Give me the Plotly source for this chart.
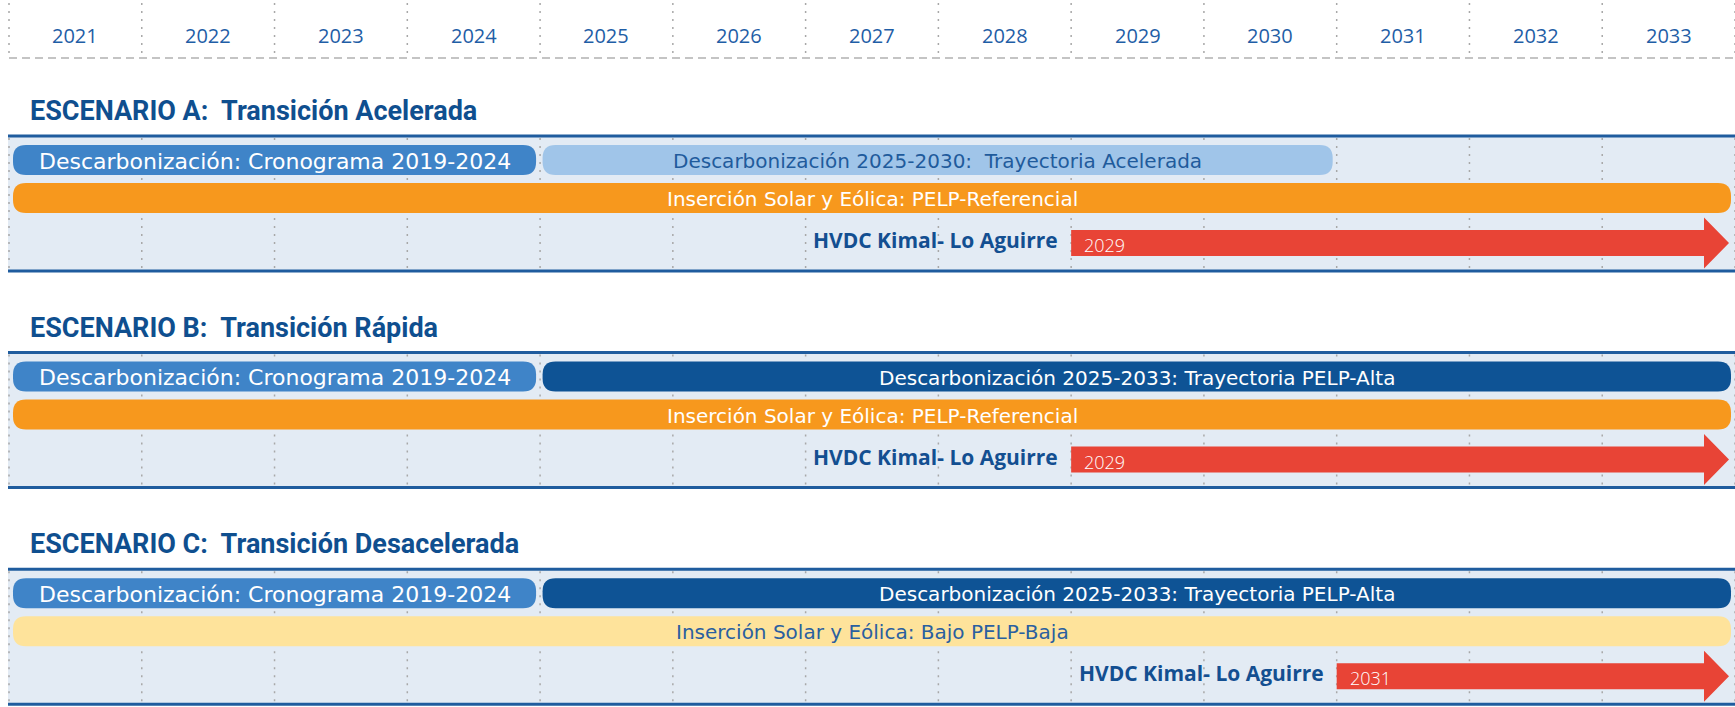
import plotly.graph_objects as go

# ---------------- data ----------------
years = list(range(2021, 2034))
year_labels = [str(y) for y in years]
axis_end = 2034

scenario_titles = ["ESCENARIO A:  Transición Acelerada",
                   "ESCENARIO B:  Transición Rápida",
                   "ESCENARIO C:  Transición Desacelerada"]

crono_label = "Descarbonización: Cronograma 2019-2024"
crono_start = [2021, 2021, 2021]
crono_end = [2025, 2025, 2025]

decarb_labels = ["Descarbonización 2025-2030:  Trayectoria Acelerada",
                 "Descarbonización 2025-2033: Trayectoria PELP-Alta",
                 "Descarbonización 2025-2033: Trayectoria PELP-Alta"]
decarb_start = [2025, 2025, 2025]
decarb_end = [2031, 2034, 2034]

solar_labels = ["Inserción Solar y Eólica: PELP-Referencial",
                "Inserción Solar y Eólica: PELP-Referencial",
                "Inserción Solar y Eólica: Bajo PELP-Baja"]
solar_start = [2021, 2021, 2021]
solar_end = [2034, 2034, 2034]

hvdc_label = "HVDC Kimal- Lo Aguirre"
hvdc_year = [2029, 2029, 2031]

# ---------------- style ----------------
W, H = 1735, 707
left_px = 9
ppy = (W - left_px) / (axis_end - years[0])  # pixels per year
x_lo = years[0] - left_px / ppy

def px(n):
    return n / ppy

decarb_colors = ["#a0c5e9", "#0e5395", "#0e5395"]
decarb_text = ["#1f5b9c", "white", "white"]
solar_colors = ["#f7981d", "#f7981d", "#fee39b"]
solar_text = ["white", "white", "#2a5fa0"]
crono_color = "#3f84c8"
red = "#e84436"
title_color = "#0f4f8f"
panel_bg = "#e3ebf4"
panel_line = "#1f5c9e"
grid_color = "#a8a8a8"
grid_dash = "2px,6px"

panel_tops = [136 + 216.6 * i for i in range(3)]
panel_h = 135
row1_off, row2_off, row3_off = 24, 62, 107
bar_h = 30
radius = 13

shapes = []
annotations = []

BAR_FONT = "DejaVu Sans"
YEAR_FONT = "Open Sans"
TITLE_FONT = "Roboto"
LABEL_FONT = "Open Sans"

def rounded(x0, x1, yc, h, r, color):
    y0, y1 = yc - h / 2, yc + h / 2
    rx = px(r)
    p = (f"M {x0+rx},{y0} L {x1-rx},{y0} Q {x1},{y0} {x1},{y0+r} "
         f"L {x1},{y1-r} Q {x1},{y1} {x1-rx},{y1} L {x0+rx},{y1} "
         f"Q {x0},{y1} {x0},{y1-r} L {x0},{y0+r} Q {x0},{y0} {x0+rx},{y0} Z")
    shapes.append(dict(type="path", path=p, xref="x", yref="y",
                       fillcolor=color, line=dict(width=0), layer="above"))

def bar(x0, x1, yc, color, text, tcolor, size=20):
    a = x0 + px(4)
    b = x1 - px(4)
    rounded(a, b, yc, bar_h, radius, color)
    annotations.append(dict(x=(a + b) / 2, y=yc + 1, xref="x", yref="y", text=text,
                            showarrow=False, xanchor="center", yanchor="middle",
                            font=dict(family=BAR_FONT, size=size, color=tcolor)))

# header: years + dotted separators + dashed line
for i, y in enumerate(years):
    annotations.append(dict(x=y + 0.5, y=35, xref="x", yref="y", text=year_labels[i],
                            showarrow=False, xanchor="center", yanchor="middle",
                            font=dict(family=YEAR_FONT, size=20, color="#1f5ea6")))
for b in years + [axis_end]:
    shapes.append(dict(type="line", xref="x", yref="y", x0=b, x1=b, y0=3, y1=56,
                       line=dict(color=grid_color, width=1.5, dash=grid_dash)))
shapes.append(dict(type="line", xref="x", yref="y", x0=years[0], x1=axis_end, y0=58, y1=58,
                   line=dict(color="#c4c4c4", width=2, dash="8px,5px")))

for i, top in enumerate(panel_tops):
    bottom = top + panel_h
    # title
    annotations.append(dict(x=years[0] + px(19), y=top - 25, xref="x", yref="y",
                            text=f"<b>{scenario_titles[i]}</b>", showarrow=False,
                            xanchor="left", yanchor="middle",
                            font=dict(family=TITLE_FONT, size=27, color=title_color)))
    # panel background
    shapes.append(dict(type="rect", xref="x", yref="y", x0=years[0] - px(1), x1=axis_end,
                       y0=top, y1=bottom, fillcolor=panel_bg, line=dict(width=0), layer="below"))
    for b in years + [axis_end]:
        shapes.append(dict(type="line", xref="x", yref="y", x0=b, x1=b, y0=top + 2, y1=bottom - 2,
                           line=dict(color=grid_color, width=1.5, dash=grid_dash)))
    for yy in (top, bottom):
        shapes.append(dict(type="line", xref="x", yref="y", x0=years[0] - px(1), x1=axis_end,
                           y0=yy, y1=yy, line=dict(color=panel_line, width=3)))
    # bars
    bar(crono_start[i], crono_end[i], top + row1_off, crono_color, crono_label, "white", 22)
    bar(decarb_start[i] - px(1.5), decarb_end[i], top + row1_off, decarb_colors[i],
        decarb_labels[i], decarb_text[i])
    bar(solar_start[i], solar_end[i], top + row2_off, solar_colors[i], solar_labels[i], solar_text[i])
    # arrow
    yc = top + row3_off
    xs = hvdc_year[i]
    xt = axis_end - px(6)
    xh = xt - px(25)
    rh, hh = 13, 25.5
    p = (f"M {xs},{yc-rh} L {xh},{yc-rh} L {xh},{yc-hh} L {xt},{yc} L {xh},{yc+hh} "
         f"L {xh},{yc+rh} L {xs},{yc+rh} Z")
    shapes.append(dict(type="path", path=p, xref="x", yref="y", fillcolor=red,
                       line=dict(width=0), layer="above"))
    annotations.append(dict(x=xs + px(11), y=yc + 2, xref="x", yref="y", text=str(hvdc_year[i]),
                            showarrow=False, xanchor="left", yanchor="middle",
                            font=dict(family=YEAR_FONT, size=18, color="white", weight=300)))
    annotations.append(dict(x=xs - px(11), y=yc - 3, xref="x", yref="y", text=f"<b>{hvdc_label}</b>",
                            showarrow=False, xanchor="right", yanchor="middle",
                            font=dict(family=LABEL_FONT, size=21, color="#134f91")))

fig = go.Figure()
fig.add_trace(go.Scatter(x=[x_lo], y=[0], mode="markers", marker=dict(opacity=0),
                         hoverinfo="skip", showlegend=False))
fig.update_layout(
    width=W, height=H, margin=dict(l=0, r=0, t=0, b=0),
    paper_bgcolor="white", plot_bgcolor="white",
    xaxis=dict(range=[x_lo, axis_end], visible=False, fixedrange=True),
    yaxis=dict(range=[H, 0], visible=False, fixedrange=True),
    shapes=shapes, annotations=annotations, showlegend=False,
)
fig.write_html("out.html", config={"displayModeBar": False},
               post_script="document.body.style.margin='0';")
